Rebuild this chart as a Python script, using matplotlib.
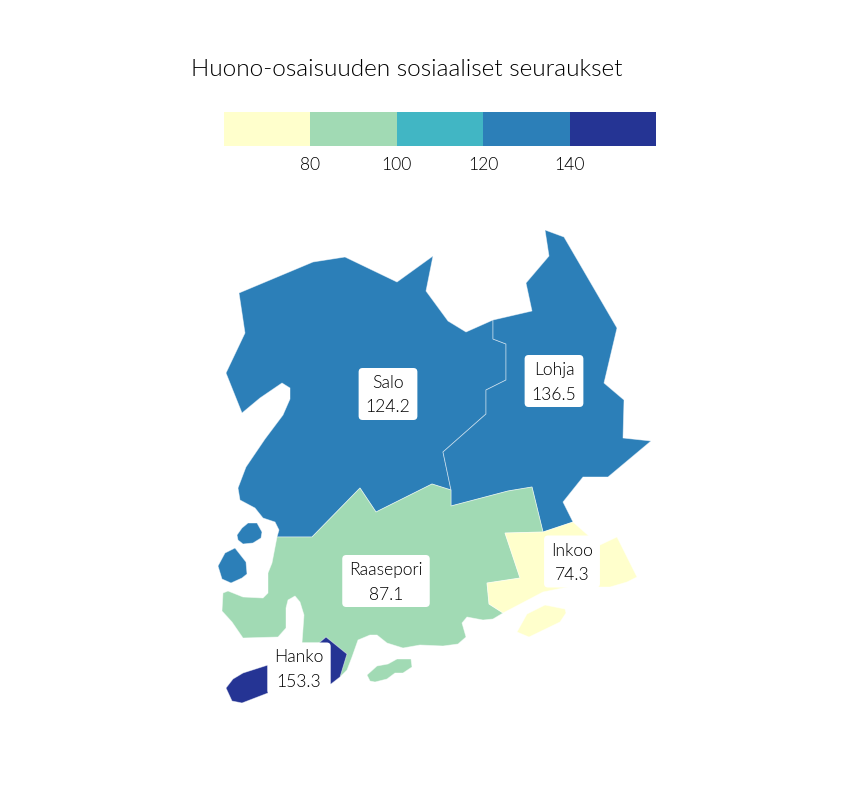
import matplotlib
matplotlib.use('Agg')
import matplotlib.pyplot as plt
from matplotlib.patches import Polygon, FancyBboxPatch
import numpy as np

plt.rcParams['font.family'] = ['Lato', 'DejaVu Sans']

title = 'Huono-osaisuuden sosiaaliset seuraukset'

# legend classes
bin_edges = [60, 80, 100, 120, 140, 160]
bin_colors = ['#ffffcc', '#a1dab4', '#41b6c4', '#2c7fb8', '#253494']
tick_values = [80, 100, 120, 140]

# municipalities
names = ['Salo', 'Lohja', 'Raasepori', 'Inkoo', 'Hanko']
values = [124.2, 136.5, 87.1, 74.3, 153.3]

# outlines, in image pixels
salo_shape = [(239, 293), (313, 262), (345, 257), (397, 282), (433, 256), (426, 291), (448, 321),
              (466, 332), (493, 320), (493, 339), (506, 344), (506, 380), (486, 390), (486, 414),
              (443, 452), (451, 490), (432, 484), (376, 512), (360, 488), (312, 537), (277, 537),
              (279, 530), (275, 522), (263, 518), (255, 508), (240, 500), (238, 488), (246, 467),
              (265, 439), (283, 415), (290, 399), (290, 388), (282, 383), (260, 398), (242, 413),
              (226, 373), (245, 333)]
salo_island_a = [(237, 535), (242, 528), (248, 523), (257, 523), (262, 532), (261, 538), (253, 543),
                 (243, 544), (238, 540)]
salo_island_b = [(218, 566), (225, 553), (235, 548), (246, 562), (247, 574), (242, 578), (231, 583),
                 (222, 579)]
lohja_shape = [(493, 320), (532, 311), (526, 283), (549, 256), (545, 230), (564, 237), (617, 328),
               (604, 383), (624, 400), (623, 438), (651, 441), (608, 477), (583, 477), (563, 502),
               (573, 522), (543, 532), (532, 487), (508, 491), (451, 506), (451, 490), (443, 452),
               (486, 414), (486, 390), (506, 380), (506, 344), (493, 339)]
raasepori_shape = [(451, 506), (508, 491), (532, 487), (543, 532), (505, 533), (520, 578), (487, 583),
                   (489, 604), (503, 613), (493, 619), (483, 620), (467, 617), (462, 623), (466, 637),
                   (458, 644), (443, 646), (420, 645), (403, 648), (387, 643), (377, 635), (370, 635),
                   (358, 640), (352, 657), (347, 670), (340, 677), (330, 660), (319, 643), (302, 643),
                   (304, 615), (300, 602), (295, 596), (288, 600), (286, 608), (286, 628), (278, 637),
                   (243, 638), (232, 622), (222, 611), (223, 593), (228, 591), (243, 597), (263, 598),
                   (268, 593), (268, 573), (272, 563), (277, 537), (312, 537), (360, 488), (376, 512),
                   (432, 484), (451, 490)]
raasepori_island = [(367, 675), (377, 666), (388, 664), (397, 659), (411, 659), (412, 667), (403, 673),
                    (395, 673), (387, 679), (375, 682), (370, 681)]
inkoo_shape = [(505, 533), (543, 532), (573, 522), (590, 537), (600, 545), (617, 537), (637, 577),
               (627, 582), (610, 587), (600, 587), (573, 586), (543, 592), (503, 613), (489, 604),
               (487, 583), (520, 578)]
inkoo_island = [(517, 632), (527, 614), (545, 605), (565, 609), (566, 613), (560, 622), (529, 637)]
hanko_shape = [(326, 637), (347, 654), (340, 677), (331, 684), (268, 693), (242, 703), (232, 701),
               (226, 688), (233, 679), (243, 673), (268, 665), (319, 643)]

shapes = {
    'Salo': [salo_shape, salo_island_a, salo_island_b],
    'Lohja': [lohja_shape],
    'Raasepori': [raasepori_shape, raasepori_island],
    'Inkoo': [inkoo_shape, inkoo_island],
    'Hanko': [hanko_shape],
}
label_x = [388, 554, 386, 572, 299]
label_y = [394, 381, 581, 561.5, 668.5]

fig = plt.figure(figsize=(8.64, 7.92), dpi=100)

ax = fig.add_axes([0, 0, 1, 1])
ax.set_xlim(0, 864)
ax.set_ylim(792, 0)
ax.axis('off')

for name, value in zip(names, values):
    color = bin_colors[np.digitize(value, bin_edges) - 1]
    for shape in shapes[name]:
        ax.add_patch(Polygon(shape, closed=True, facecolor=color, edgecolor=(1, 1, 1, 0.5), linewidth=0.6))

renderer = fig.canvas.get_renderer()
for name, value, x, y in zip(names, values, label_x, label_y):
    top = ax.text(x, y - 11, name, ha='center', va='center', fontsize=12.6, fontweight=300,
                  color='black', zorder=5)
    bottom = ax.text(x, y + 13.5, str(value), ha='center', va='center', fontsize=12.6, fontweight=300,
                     color='black', zorder=5)
    # box follows the wider line, height is fixed
    w = max(top.get_window_extent(renderer).width, bottom.get_window_extent(renderer).width) + 6
    ax.add_patch(FancyBboxPatch((x - w / 2, y - 22), w, 44, boxstyle='round,pad=4,rounding_size=4',
                                facecolor='white', edgecolor='none', zorder=4))

ax.text(191, 70, title, ha='left', va='center', fontsize=17.6, fontweight=300, color='black')

# legend
leg = fig.add_axes([224 / 864, 1 - 146 / 792, 432 / 864, 34 / 792])
leg.bar(bin_edges[:-1], [1] * 5, width=np.diff(bin_edges), align='edge', color=bin_colors, linewidth=0)
leg.set_xlim(bin_edges[0], bin_edges[-1])
leg.set_ylim(0, 1)
leg.set_yticks([])
leg.set_xticks(tick_values)
leg.tick_params(axis='x', length=0, pad=8, labelsize=12.6, labelcolor='black')
for label in leg.get_xticklabels():
    label.set_fontweight(300)
for s in leg.spines.values():
    s.set_visible(False)

fig.savefig('out.png', dpi=100, facecolor='white')
